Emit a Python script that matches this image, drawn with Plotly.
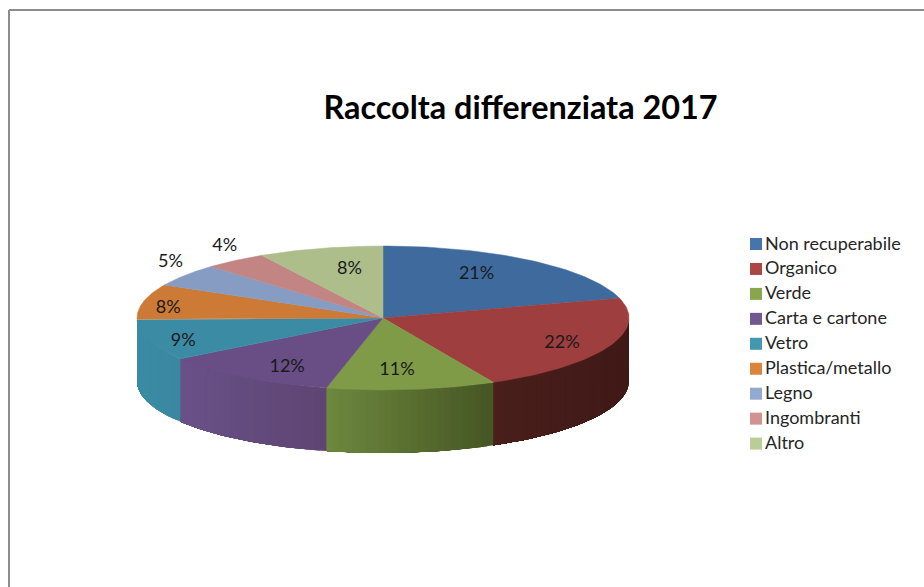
import numpy as np
import plotly.graph_objects as go

TITLE = "Raccolta differenziata 2017"
categories = ["Non recuperabile", "Organico", "Verde", "Carta e cartone", "Vetro",
              "Plastica/metallo", "Legno", "Ingombranti", "Altro"]
percent = [20.6, 22.0, 11.1, 11.7, 9.2, 8.0, 5.1, 4.1, 8.2]

# styles
top_colors = ["#3F6A9E", "#9E3E3E", "#7F9B47", "#684E85", "#3C8BA5",
              "#CC7A36", "#879CC2", "#C38583", "#ADBE8B"]
legend_colors = ["#4674AC", "#AA4644", "#89A54E", "#71588F", "#4198AF",
                 "#DB843D", "#93A9CF", "#D19392", "#B9CD96"]
wall_left = ["#3F6A9E", "#4A1F1C", "#6E883F", "#6A5188", "#3B8CA5",
             "#CC7A36", "#879CC2", "#C38583", "#ADBE8B"]
wall_right = ["#3F6A9E", "#401A17", "#465624", "#5E4573", "#3A88A0",
              "#CC7A36", "#879CC2", "#C38583", "#ADBE8B"]
label_rx = [0.631, 0.795, 0.49, 0.69, 0.854, 0.896, 1.075, 1.072, 0.534]
label_ry = [0.79, 0.82, 0.71, 0.80, 1.00, 0.67, 1.34, 1.27, 0.72]

CX, CY, A, B, DEPTH = 383, 318, 246, 72, 63
LEG_X, LEG_Y0, LEG_DY = 756, 244, 24.95
LABEL_DY, LEG_TEXT_X, LEG_TEXT_DY = 1.5, 765, 1


def hex2rgb(c):
    return np.array([int(c[i:i + 2], 16) for i in (1, 3, 5)], dtype=float)


def ex(t):
    return CX + A * np.sin(t)


def ey(t):
    return CY - B * np.cos(t)


fig = go.Figure()
edges = np.radians(np.concatenate([[0], np.cumsum(percent)]) * 3.6)

# side wall: overlapping shaded bands along the front half of the rim
for i in range(len(percent)):
    t0, t1 = max(edges[i], np.pi / 2), min(edges[i + 1], 3 * np.pi / 2)
    if t1 <= t0:
        continue
    n = max(2, int(np.degrees(t1 - t0) / 1.5))
    ts = np.linspace(t0, t1, n + 1)
    x0, x1 = ex(t1), ex(t0)
    for a, b in zip(ts[:-1], ts[1:]):
        s = (ex((a + b) / 2) - min(x0, x1)) / max(abs(x1 - x0), 1)
        rgb = hex2rgb(wall_left[i]) * (1 - s) + hex2rgb(wall_right[i]) * s
        col = "rgb(%d,%d,%d)" % tuple(rgb)
        arc = np.linspace(a, t1, 40)
        xs = list(ex(arc)) + list(ex(arc[::-1]))
        ys = list(ey(arc)) + list(ey(arc[::-1]) + DEPTH)
        fig.add_trace(go.Scatter(x=xs, y=ys, mode="lines", fill="toself", fillcolor=col,
                                 line=dict(width=0), hoverinfo="skip",
                                 showlegend=False))

# top face
for i, name in enumerate(categories):
    arc = np.linspace(edges[i], edges[i + 1], 60)
    fig.add_trace(go.Scatter(x=[CX] + list(ex(arc)) + [CX], y=[CY] + list(ey(arc)) + [CY],
                             mode="lines", fill="toself", fillcolor=top_colors[i],
                             line=dict(color=top_colors[i], width=0.5), name=name,
                             hoverinfo="name", showlegend=False))

# percentage labels
mid = (edges[:-1] + edges[1:]) / 2
fig.add_trace(go.Scatter(
    x=CX + A * np.array(label_rx) * np.sin(mid),
    y=CY - B * np.array(label_ry) * np.cos(mid) + LABEL_DY,
    mode="text", text=[f"{round(p)}%" for p in percent], textposition="middle center",
    textfont=dict(family="Lato", size=18, color="#1A1A1A"),
    hoverinfo="skip", showlegend=False))

# legend
rows = LEG_Y0 + LEG_DY * np.arange(len(categories))
fig.add_trace(go.Scatter(
    x=[LEG_X] * len(categories), y=rows, mode="markers",
    marker=dict(symbol="square", size=12, color=legend_colors),
    hoverinfo="skip", showlegend=False))
fig.add_trace(go.Scatter(
    x=[LEG_TEXT_X] * len(categories), y=rows + LEG_TEXT_DY, mode="text",
    text=categories, textposition="middle right",
    textfont=dict(family="Lato", size=18, color="#262626"),
    hoverinfo="skip", showlegend=False))

fig.update_layout(
    width=924, height=587, margin=dict(l=0, r=0, t=0, b=0),
    paper_bgcolor="white", plot_bgcolor="white", showlegend=False,
    title=dict(text=f"<b>{TITLE}</b>", x=520.5 / 924, xanchor="center",
               y=1 - 108 / 587, yanchor="middle",
               font=dict(family="Lato", size=32.4, color="#000000")),
    xaxis=dict(range=[0, 924], visible=False, fixedrange=True),
    yaxis=dict(range=[587, 0], visible=False, fixedrange=True),
    shapes=[dict(type="line", xref="x", yref="y", x0=9, x1=924, y0=10, y1=10,
                 line=dict(color="#8C8C8C", width=2)),
            dict(type="line", xref="x", yref="y", x0=9, x1=9, y0=10, y1=587,
                 line=dict(color="#8C8C8C", width=2))],
)
fig.write_html("out.html", config=dict(displayModeBar=False),
               post_script="document.body.style.margin='0';document.body.style.overflow='hidden';")
